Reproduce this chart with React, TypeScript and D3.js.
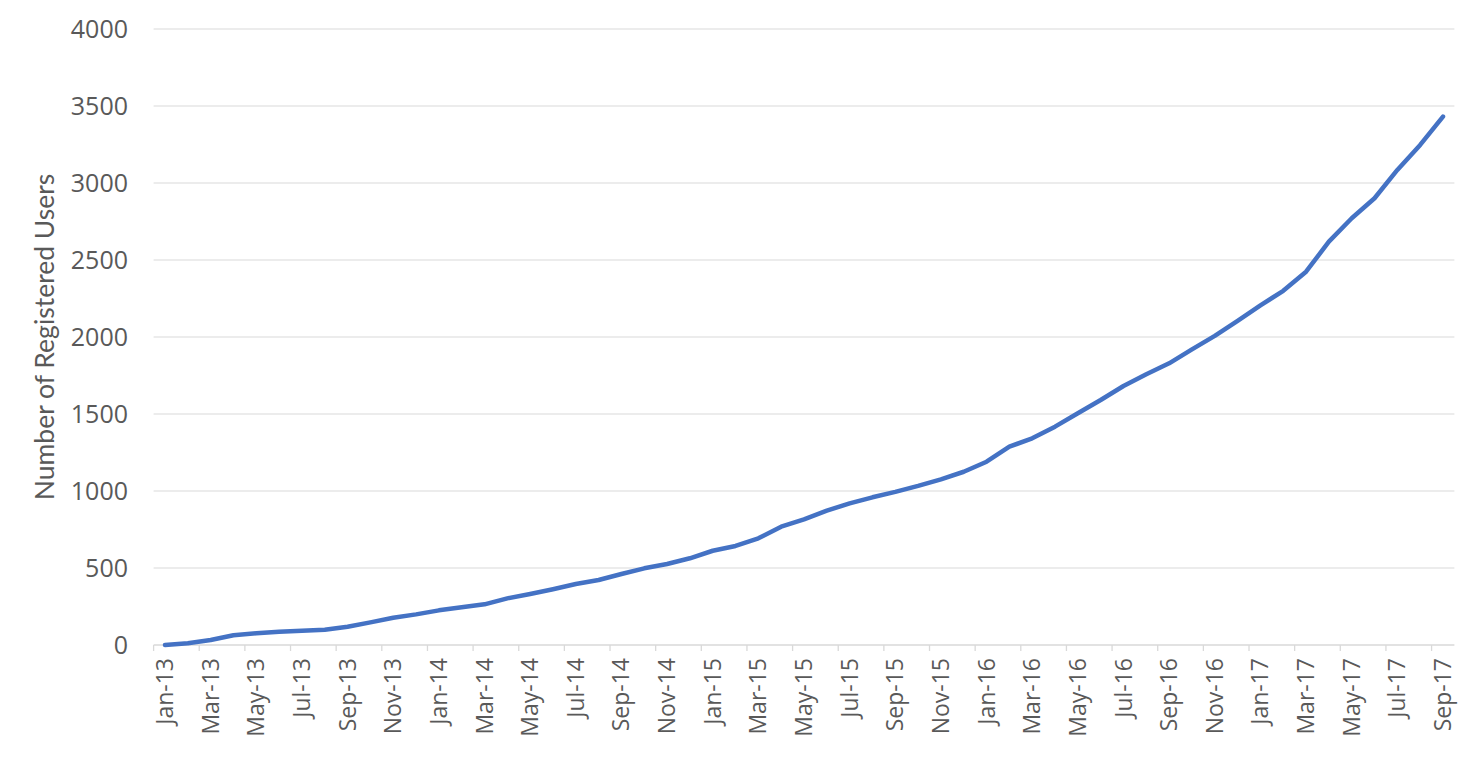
import React from "react";
import * as d3 from "d3";

const months = ["Jan", "Feb", "Mar", "Apr", "May", "Jun", "Jul", "Aug", "Sep", "Oct", "Nov", "Dec"];
const years = ["13", "14", "15", "16", "17"];
const categories: string[] = [];
years.forEach((y) => months.forEach((m) => categories.push(`${m}-${y}`)));
categories.splice(57);

const users2013 = [0, 11, 32, 63, 76, 86, 93, 99, 119, 147, 177, 199];
const users2014 = [225, 245, 264, 303, 331, 362, 396, 422, 461, 498, 526, 563];
const users2015 = [612, 643, 693, 768, 816, 872, 920, 959, 994, 1033, 1076, 1125];
const users2016 = [1190, 1288, 1342, 1418, 1505, 1591, 1682, 1758, 1829, 1920, 2007, 2105];
const users2017 = [2205, 2300, 2424, 2619, 2771, 2901, 3085, 3247, 3431];
const users = [...users2013, ...users2014, ...users2015, ...users2016, ...users2017];

const yTicks = [0, 500, 1000, 1500, 2000, 2500, 3000, 3500, 4000];
const yTitle = "Number of Registered Users";

const W = 1476;
const H = 768;
const left = 153.6;
const right = 1454.4;
const top = 29;
const bottom = 645;

export default function App() {
  const x = d3.scaleBand<string>().domain(categories).range([left, right]).paddingInner(0).paddingOuter(0);
  const y = d3.scaleLinear().domain([0, 4000]).range([bottom, top]);
  const cx = (c: string) => (x(c) as number) + x.bandwidth() / 2;
  const line = d3
    .line<number>()
    .x((_, i) => cx(categories[i]))
    .y((d) => y(d))
    .curve(d3.curveLinear);
  const labelCats = categories.filter((_, i) => i % 2 === 0);
  const tickPos = labelCats.map((c) => x(c) as number);
  const font = "'Open Sans', 'DejaVu Sans', sans-serif";
  return (
    <svg width={W} height={H} style={{ position: "absolute", left: 0, top: 0, background: "#fff" }}>
      <rect x={0} y={0} width={W} height={H} fill="#fff" />
      {yTicks.map((t) =>
        t === 0 ? null : (
          <line key={"g" + t} x1={left} x2={right} y1={y(t)} y2={y(t)} stroke="#d9d9d9" strokeWidth={1} />
        )
      )}
      <line x1={left} x2={right} y1={bottom} y2={bottom} stroke="#d9d9d9" strokeWidth={1.3} />
      {tickPos.map((p, i) => (
        <line key={"t" + i} x1={p} x2={p} y1={bottom} y2={bottom + 6} stroke="#d9d9d9" strokeWidth={1.3} />
      ))}
      {yTicks.map((t) => (
        <text
          key={"yl" + t}
          x={128}
          y={y(t)}
          dy="0.35em"
          textAnchor="end"
          fontFamily={font}
          fontSize={25}
          fill="#595959"
        >
          {t}
        </text>
      ))}
      {labelCats.map((c) => (
        <text
          key={"xl" + c}
          transform={`translate(${cx(c)},${bottom + 13}) rotate(-90)`}
          dy="0.35em"
          textAnchor="end"
          fontFamily={font}
          fontSize={23}
          fill="#595959"
        >
          {c}
        </text>
      ))}
      <text
        transform={`translate(45,${(top + bottom) / 2}) rotate(-90)`}
        dy="0.35em"
        textAnchor="middle"
        fontFamily="Lato, 'Open Sans', sans-serif"
        fontSize={26.5}
        fill="#595959"
      >
        {yTitle}
      </text>
      <path d={line(users) || ""} fill="none" stroke="#4472C4" strokeWidth={4.5} strokeLinejoin="round" strokeLinecap="round" />
    </svg>
  );
}
